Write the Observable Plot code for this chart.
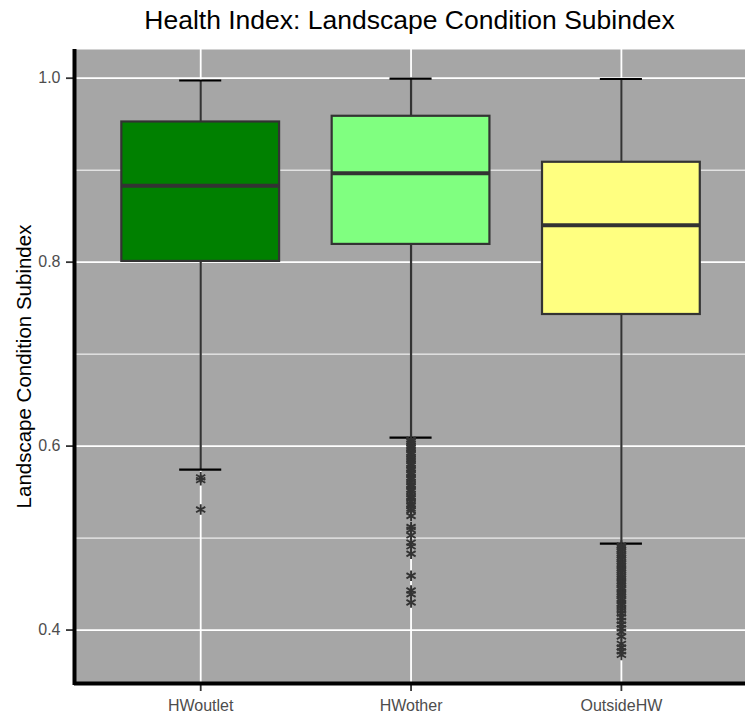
<!DOCTYPE html>
<html>
<head>
<meta charset="utf-8">
<script src="https://cdn.jsdelivr.net/npm/d3@7"></script>
<script src="https://cdn.jsdelivr.net/npm/@observablehq/plot@0.6"></script>
<style>
  html, body { margin: 0; padding: 0; background: white; }
  #title {
    width: 745px; height: 40px; box-sizing: border-box;
    padding-left: 74px; text-align: center;
    font-family: "Liberation Sans", Arial, sans-serif;
    font-size: 26.5px; line-height: 40px; color: black;
  }
  #chart svg { display: block; }
</style>
</head>
<body>
<div id="title">Health Index: Landscape Condition Subindex</div>
<div id="chart"></div>
<script>
// ---- data ----
const categories = ["HWoutlet", "HWother", "OutsideHW"];
const fills = ["#008000", "#80FF80", "#FFFF80"];
const q1 = [0.8008, 0.8193, 0.7431];
const medians = [0.8832, 0.8966, 0.8400];
const q3 = [0.9524, 0.9586, 0.9086];
const whiskerLow = [0.5744, 0.6093, 0.4939];
const whiskerHigh = [0.9975, 0.9995, 0.9991];
const outliersHWoutlet = [0.566, 0.563, 0.531];
const outliersHWother = [
  0.607, 0.605, 0.603, 0.600, 0.598, 0.596, 0.593, 0.591, 0.588, 0.586,
  0.584, 0.581, 0.579, 0.576, 0.574, 0.571, 0.569, 0.566, 0.564, 0.561,
  0.558, 0.556, 0.553, 0.551, 0.548, 0.545, 0.543, 0.540, 0.537, 0.535,
  0.532, 0.530, 0.524, 0.512, 0.509, 0.503, 0.495, 0.491, 0.483, 0.459,
  0.443, 0.439, 0.430
];
const outliersOutsideHW = [
  0.492, 0.490, 0.488, 0.486, 0.483, 0.481, 0.479, 0.477, 0.474, 0.472,
  0.470, 0.467, 0.465, 0.463, 0.460, 0.458, 0.456, 0.453, 0.451, 0.449,
  0.446, 0.444, 0.441, 0.439, 0.437, 0.434, 0.432, 0.429, 0.427, 0.424,
  0.421, 0.418, 0.414, 0.410, 0.406, 0.402, 0.398, 0.393, 0.385, 0.381,
  0.377, 0.373
];
const yTicks = [0.4, 0.6, 0.8, 1.0];
const yMinorTicks = [0.5, 0.7, 0.9];
const yDomain = [0.3419, 1.0312];
const xDomain = [0.4, 3.59];

// ---- tables built from the arrays ----
const boxes = categories.map((c, i) => ({
  name: c, x: i + 1, fill: fills[i],
  q1: q1[i], median: medians[i], q3: q3[i],
  low: whiskerLow[i], high: whiskerHigh[i]
}));
const outlierLists = [outliersHWoutlet, outliersHWother, outliersOutsideHW];
const outliers = outlierLists.flatMap((arr, i) => arr.map(v => ({x: i + 1, v})));
const halfBox = 0.375, halfCap = 0.1;

const chart = Plot.plot({
  width: 745,
  height: 679,
  marginLeft: 74,
  marginRight: 0,
  marginTop: 9,
  marginBottom: 36,
  style: {fontFamily: "'Liberation Sans', Arial, sans-serif", fontSize: "16px", background: "white"},
  x: {type: "linear", domain: xDomain},
  y: {domain: yDomain},
  color: {type: "identity"},
  marks: [
    Plot.frame({fill: "#A6A6A6", stroke: "none"}),
    Plot.ruleY(yMinorTicks, {stroke: "white", strokeWidth: 1}),
    Plot.ruleY(yTicks, {stroke: "white", strokeWidth: 1.8}),
    Plot.ruleX(boxes, {x: "x", stroke: "white", strokeWidth: 1.8}),
    // error bar caps + vertical whiskers
    Plot.ruleX(boxes, {x: "x", y1: "low", y2: "high", stroke: "#333333", strokeWidth: 2.2}),
    Plot.ruleY(boxes, {y: "high", x1: d => d.x - halfCap, x2: d => d.x + halfCap, stroke: "black", strokeWidth: 2.2}),
    Plot.ruleY(boxes, {y: "low", x1: d => d.x - halfCap, x2: d => d.x + halfCap, stroke: "black", strokeWidth: 2.2}),
    // boxes
    Plot.rect(boxes, {x1: d => d.x - halfBox, x2: d => d.x + halfBox, y1: "q1", y2: "q3", fill: "fill", stroke: "#333333", strokeWidth: 2.2}),
    Plot.ruleY(boxes, {y: "median", x1: d => d.x - halfBox, x2: d => d.x + halfBox, stroke: "#333333", strokeWidth: 4}),
    // outliers
    Plot.dot(outliers, {x: "x", y: "v", symbol: "asterisk", r: 5, stroke: "#333333", strokeWidth: 1.9}),
    // axes
    Plot.axisY(yTicks, {tickFormat: d3.format(".1f"), tickSize: 8, tickPadding: 6, stroke: "#333333", strokeWidth: 1.8, fill: "#4D4D4D", fontSize: 16, label: null}),
    Plot.axisX([1, 2, 3], {tickFormat: i => categories[i - 1], tickSize: 8, tickPadding: 8, stroke: "#333333", strokeWidth: 1.8, fill: "#4D4D4D", fontSize: 16, label: null}),
    Plot.ruleX([xDomain[0]], {stroke: "black", strokeWidth: 4, insetBottom: -2}),
    Plot.ruleY([yDomain[0]], {stroke: "black", strokeWidth: 4}),
    Plot.text(["Landscape Condition Subindex"], {frameAnchor: "left", textAnchor: "middle", rotate: -90, dx: -50, fontSize: 20.5, fill: "black"})
  ]
});
document.getElementById("chart").appendChild(chart);
</script>
</body>
</html>
